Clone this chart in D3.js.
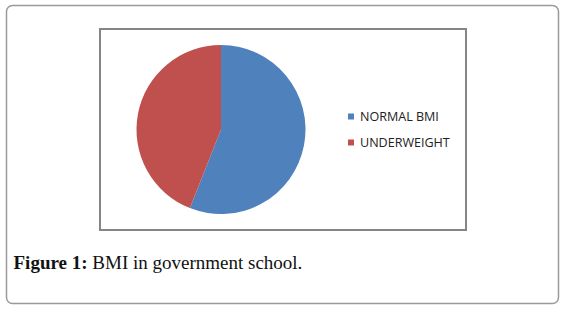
<!DOCTYPE html>
<html>
<head>
<meta charset="utf-8">
<script src="https://cdn.jsdelivr.net/npm/d3@7"></script>
<style>
  html, body { margin: 0; padding: 0; background: #fff; }
  svg { display: block; }
</style>
</head>
<body>
<svg id="chart" width="567" height="309"></svg>
<script>
// Data
const categories = ["NORMAL BMI", "UNDERWEIGHT"];
const values = [56, 44];
const colors = ["#4F81BD", "#C0504D"];
const captionBold = "Figure 1:";
const captionText = " BMI in government school.";

const svg = d3.select("#chart");

// Outer rounded frame
svg.append("rect")
  .attr("x", 6.5).attr("y", 5.5)
  .attr("width", 552).attr("height", 298)
  .attr("rx", 6).attr("ry", 6)
  .attr("fill", "#fff")
  .attr("stroke", "#9a9a9a")
  .attr("stroke-width", 1.5);

// Inner chart box
svg.append("rect")
  .attr("x", 100).attr("y", 29)
  .attr("width", 366).attr("height", 201)
  .attr("fill", "#fff")
  .attr("stroke", "#858585")
  .attr("stroke-width", 2);

// Pie
const cx = 221, cy = 129.5, r = 84.5;
const pie = d3.pie().sort(null).value(d => d)(values);
const arc = d3.arc().innerRadius(0).outerRadius(r);
svg.append("g")
  .attr("transform", `translate(${cx},${cy})`)
  .selectAll("path")
  .data(pie)
  .join("path")
  .attr("d", arc)
  .attr("fill", (d, i) => colors[i]);

// Legend
const legend = svg.append("g");
const legendY = d3.scalePoint().domain(categories).range([116.5, 142.5]);
const items = legend.selectAll("g").data(categories).join("g")
  .attr("transform", d => `translate(348,${legendY(d)})`);
items.append("rect")
  .attr("x", 0).attr("y", -3)
  .attr("width", 6).attr("height", 6)
  .attr("fill", (d, i) => colors[i]);
const lt = items.append("text")
  .attr("x", 12).attr("y", 4.5)
  .attr("font-family", "'Open Sans', 'Liberation Sans', sans-serif")
  .attr("font-size", 11)
  .attr("fill", "#222")
  .text(d => d);
// fit legend text width to reference (NORMAL BMI ≈ 79px)
const w0 = lt.nodes()[0].getComputedTextLength();
const lfs = 11 * 79 / w0;
lt.attr("font-size", lfs);

// Caption
const cap = svg.append("text")
  .attr("x", 13.5).attr("y", 269)
  .attr("font-family", "'Liberation Serif', 'DejaVu Serif', serif")
  .attr("font-size", 19)
  .attr("fill", "#111");
cap.append("tspan").attr("font-weight", "bold").text(captionBold);
cap.append("tspan").text(captionText);
const cw = cap.node().getComputedTextLength();
cap.attr("font-size", 19 * 289 / cw);
</script>
</body>
</html>
